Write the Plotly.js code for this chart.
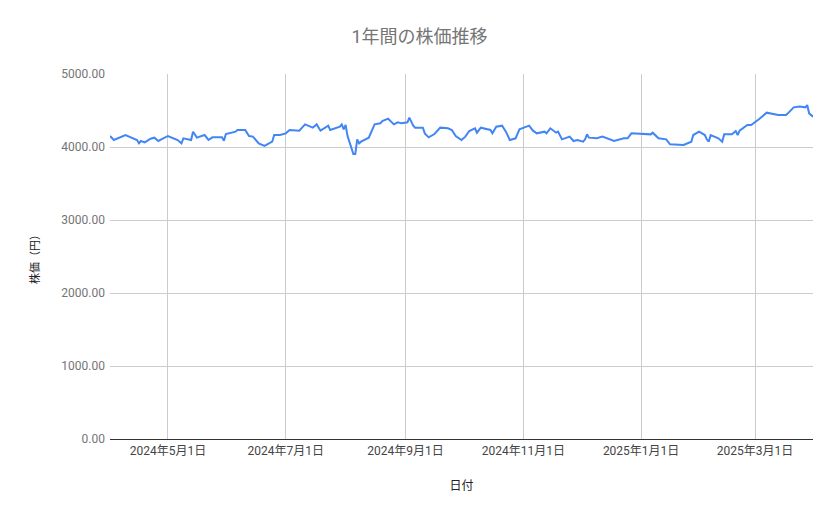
<!DOCTYPE html>
<html>
<head>
<meta charset="utf-8">
<script src="https://cdn.plot.ly/plotly-3.0.1.min.js"></script>
<style>
	html, body { margin: 0; padding: 0; background: #fff; }
	#chart { width: 839px; height: 519px; }
</style>
</head>
<body>
<div id="chart"></div>
<script>
'use strict';

// values
const dates = [
	'2024-04-01', '2024-04-03', '2024-04-09', '2024-04-12', '2024-04-15', '2024-04-16', '2024-04-17', '2024-04-19',
	'2024-04-22', '2024-04-24', '2024-04-26', '2024-05-01', '2024-05-06', '2024-05-08', '2024-05-09', '2024-05-13',
	'2024-05-14', '2024-05-16', '2024-05-20', '2024-05-22', '2024-05-24', '2024-05-29', '2024-05-30', '2024-05-31',
	'2024-06-03', '2024-06-05', '2024-06-06', '2024-06-10', '2024-06-12', '2024-06-14', '2024-06-17', '2024-06-20',
	'2024-06-24', '2024-06-25', '2024-06-28', '2024-07-01', '2024-07-03', '2024-07-08', '2024-07-11', '2024-07-15',
	'2024-07-17', '2024-07-19', '2024-07-23', '2024-07-24', '2024-07-29', '2024-07-30', '2024-07-31', '2024-08-01',
	'2024-08-02', '2024-08-05', '2024-08-06', '2024-08-07', '2024-08-08', '2024-08-09', '2024-08-13', '2024-08-16',
	'2024-08-19', '2024-08-20', '2024-08-23', '2024-08-26', '2024-08-28', '2024-08-30', '2024-09-02', '2024-09-03',
	'2024-09-05', '2024-09-06', '2024-09-10', '2024-09-11', '2024-09-13', '2024-09-16', '2024-09-19', '2024-09-23',
	'2024-09-25', '2024-09-26', '2024-09-27', '2024-09-30', '2024-10-02', '2024-10-04', '2024-10-07', '2024-10-08',
	'2024-10-10', '2024-10-15', '2024-10-16', '2024-10-18', '2024-10-21', '2024-10-23', '2024-10-25', '2024-10-28',
	'2024-10-30', '2024-11-04', '2024-11-06', '2024-11-08', '2024-11-12', '2024-11-13', '2024-11-15', '2024-11-18',
	'2024-11-19', '2024-11-21', '2024-11-25', '2024-11-27', '2024-11-29', '2024-12-02', '2024-12-03', '2024-12-04',
	'2024-12-05', '2024-12-09', '2024-12-12', '2024-12-18', '2024-12-23', '2024-12-25', '2024-12-27', '2025-01-06',
	'2025-01-07', '2025-01-10', '2025-01-14', '2025-01-16', '2025-01-23', '2025-01-27', '2025-01-28', '2025-01-31',
	'2025-02-03', '2025-02-04', '2025-02-05', '2025-02-06', '2025-02-10', '2025-02-12', '2025-02-13', '2025-02-17',
	'2025-02-19', '2025-02-20', '2025-02-21', '2025-02-25', '2025-02-27', '2025-03-03', '2025-03-07', '2025-03-13',
	'2025-03-17', '2025-03-18', '2025-03-21', '2025-03-24', '2025-03-27', '2025-03-28', '2025-03-29', '2025-03-31'
];

const prices = [
	4151, 4096, 4164, 4132, 4096, 4050, 4082, 4064,
	4114, 4128, 4082, 4151, 4096, 4050, 4119, 4096,
	4210, 4128, 4164, 4096, 4132, 4132, 4087, 4178,
	4201, 4210, 4233, 4233, 4151, 4142, 4050, 4014,
	4073, 4164, 4164, 4187, 4233, 4224, 4310, 4265,
	4310, 4224, 4292, 4233, 4278, 4310, 4242, 4301,
	4150, 3904, 3904, 4105, 4050, 4073, 4128, 4310,
	4324, 4356, 4388, 4310, 4338, 4324, 4338, 4402,
	4292, 4265, 4265, 4187, 4132, 4178, 4265, 4256,
	4233, 4190, 4150, 4096, 4142, 4219, 4256, 4196,
	4265, 4233, 4187, 4278, 4292, 4210, 4096, 4119,
	4242, 4292, 4224, 4187, 4210, 4187, 4256, 4196,
	4210, 4105, 4142, 4082, 4096, 4073, 4105, 4173,
	4128, 4119, 4142, 4082, 4119, 4119, 4187, 4173,
	4196, 4119, 4105, 4037, 4027, 4073, 4164, 4210,
	4164, 4105, 4073, 4164, 4119, 4073, 4173, 4173,
	4219, 4164, 4224, 4301, 4301, 4379, 4470, 4438,
	4438, 4461, 4543, 4553, 4543, 4575, 4461, 4416
];

const yTicks = [0, 1000, 2000, 3000, 4000, 5000];

const trace = {
	x: dates,
	y: prices,
	type: 'scatter',
	mode: 'lines',
	line: { color: '#4285F4', width: 2 },
	hoverinfo: 'x+y'
};

const layout = {
	width: 839,
	height: 519,
	margin: { l: 110, r: 26, t: 74, b: 80 },
	paper_bgcolor: '#ffffff',
	plot_bgcolor: '#ffffff',
	font: { family: 'Roboto, "Noto Sans CJK JP", sans-serif', color: '#444444' },
	showlegend: false,
	title: {
		text: '1年間の株価推移',
		x: 0.5,
		xanchor: 'center',
		y: 0.93,
		yanchor: 'middle',
		font: { size: 18, color: '#757575' }
	},
	xaxis: {
		type: 'date',
		tick0: '2024-05-01',
		dtick: 'M2',
		tickformat: '%Y年%-m月%-d日',
		showgrid: true,
		gridcolor: '#cccccc',
		gridwidth: 1,
		showline: true,
		linecolor: '#333333',
		linewidth: 1.3,
		ticks: '',
		tickfont: { size: 12, color: '#444444' },
		title: {
			text: '日付',
			standoff: 25,
			font: { size: 12, color: '#222222' }
		}
	},
	yaxis: {
		range: [0, 5000],
		tickvals: yTicks,
		tickformat: '.2f',
		showgrid: true,
		gridcolor: '#cccccc',
		gridwidth: 1,
		zeroline: false,
		showline: false,
		ticks: '',
		ticklabelstandoff: 4,
		tickfont: { size: 12, color: '#757575' },
		title: {
			text: '株価（円）',
			standoff: 19,
			font: { size: 11, color: '#222222' }
		}
	}
};

Plotly.newPlot('chart', [trace], layout, { displayModeBar: false, responsive: false });
</script>
</body>
</html>
